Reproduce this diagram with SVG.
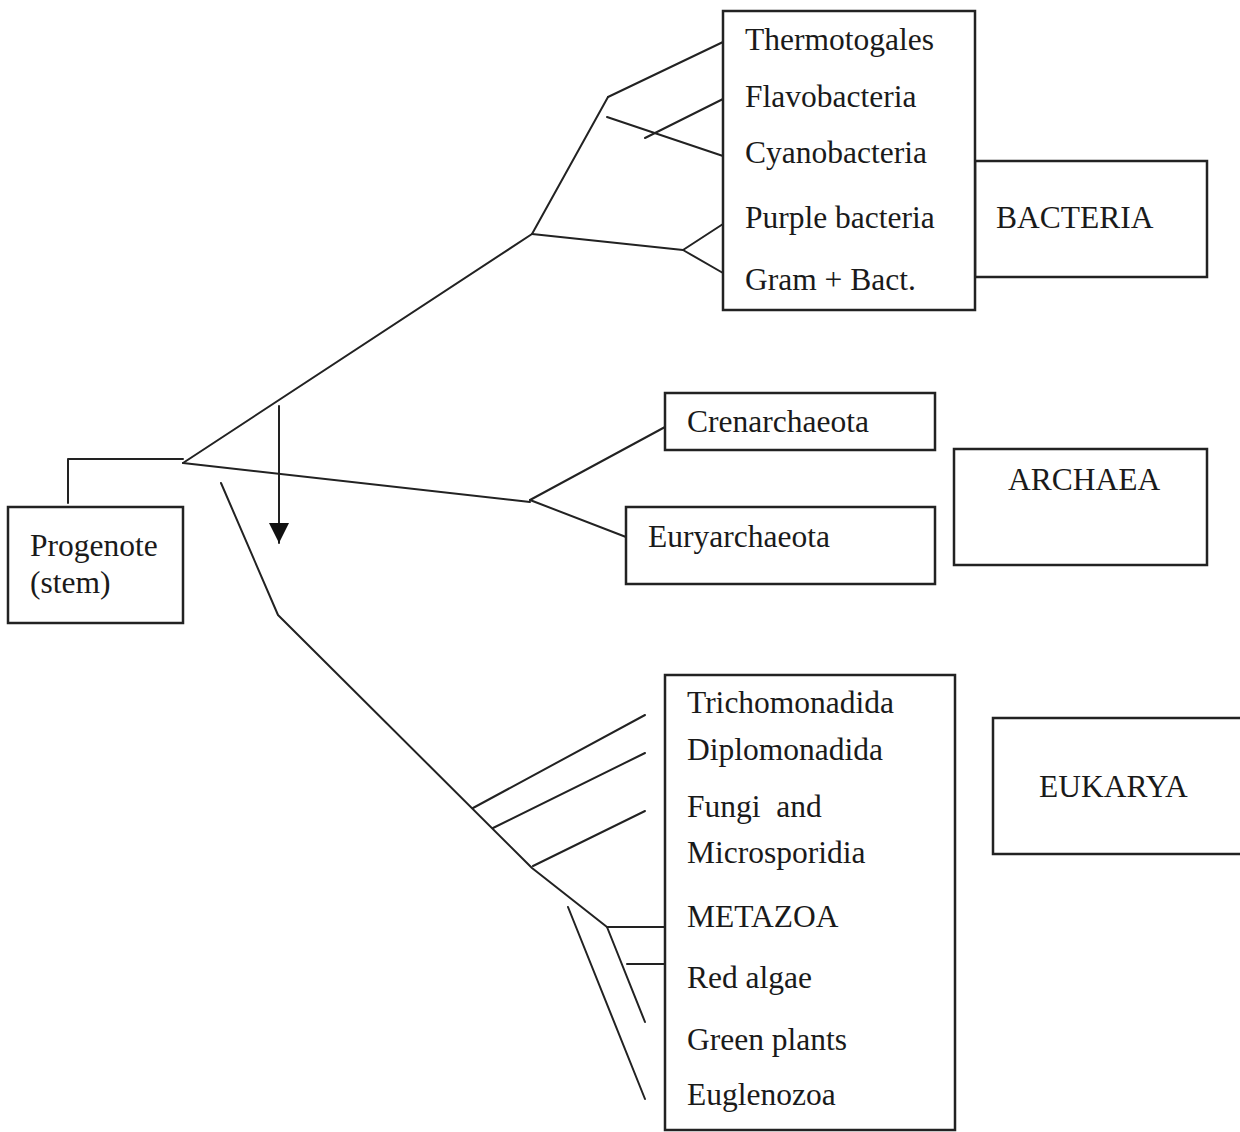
<svg xmlns="http://www.w3.org/2000/svg" width="1240" height="1132" viewBox="0 0 1240 1132">
<style>
.box{fill:#fff;stroke:#222;stroke-width:2.5}
.ln{fill:none;stroke:#222;stroke-width:2;stroke-linecap:round;stroke-linejoin:round}
text{font-family:"Liberation Serif","Times New Roman",serif;font-size:31.5px;fill:#1a1a1a}
</style>
<defs>
<marker id="ah" markerWidth="20" markerHeight="20" refX="20" refY="10" orient="auto" markerUnits="userSpaceOnUse" viewBox="0 0 20 20">
<path d="M0,0 L20,10 L0,20 Z" fill="#111"/>
</marker>
</defs>
<rect width="1240" height="1132" fill="#fff"/>
<g id="connectors">
<polyline class="ln" points="68,503 68,459 183,459"/>
<line class="ln" x1="183" y1="463" x2="532" y2="234"/>
<line class="ln" x1="532" y1="234" x2="608" y2="97"/>
<line class="ln" x1="608" y1="97" x2="723" y2="42"/>
<line class="ln" x1="607" y1="117" x2="723" y2="156"/>
<line class="ln" x1="645" y1="138" x2="723" y2="99"/>
<line class="ln" x1="532" y1="234" x2="683" y2="250"/>
<line class="ln" x1="683" y1="250" x2="723" y2="224"/>
<line class="ln" x1="683" y1="250" x2="723" y2="273"/>
<line class="ln" x1="183" y1="463" x2="530" y2="502"/>
<line class="ln" x1="530" y1="500" x2="665" y2="427"/>
<line class="ln" x1="530" y1="500" x2="626" y2="537"/>
<line class="ln" x1="279" y1="406" x2="279" y2="543" marker-end="url(#ah)"/>
<polyline class="ln" points="221,483 278,615 532,868 607,927 645,1022"/>
<line class="ln" x1="473" y1="808" x2="645" y2="715"/>
<line class="ln" x1="493" y1="828" x2="645" y2="753"/>
<line class="ln" x1="533" y1="866" x2="645" y2="811"/>
<line class="ln" x1="607" y1="927" x2="665" y2="927"/>
<line class="ln" x1="627" y1="964" x2="665" y2="964"/>
<line class="ln" x1="568" y1="907" x2="645" y2="1099"/>
</g>
<g id="progenote">
<rect class="box" x="8" y="507" width="175" height="116"/>
<text x="30" y="556">Progenote</text>
<text x="30" y="593">(stem)</text>
</g>
<g id="bacteria-group">
<rect class="box" x="975" y="161" width="232" height="116"/>
<text x="996" y="228">BACTERIA</text>
</g>
<g id="bacteria-list">
<rect class="box" x="723" y="11" width="252" height="299"/>
<text x="745" y="50">Thermotogales</text>
<text x="745" y="107">Flavobacteria</text>
<text x="745" y="163">Cyanobacteria</text>
<text x="745" y="228">Purple bacteria</text>
<text x="745" y="290">Gram + Bact.</text>
</g>
<g id="crenarchaeota">
<rect class="box" x="665" y="393" width="270" height="57"/>
<text x="687" y="432">Crenarchaeota</text>
</g>
<g id="euryarchaeota">
<rect class="box" x="626" y="507" width="309" height="77"/>
<text x="648" y="547">Euryarchaeota</text>
</g>
<g id="archaea">
<rect class="box" x="954" y="449" width="253" height="116"/>
<text x="1008" y="490">ARCHAEA</text>
</g>
<g id="eukarya-list">
<rect class="box" x="665" y="675" width="290" height="455"/>
<text x="687" y="713">Trichomonadida</text>
<text x="687" y="760">Diplomonadida</text>
<text x="687" y="817" xml:space="preserve">Fungi  and</text>
<text x="687" y="863">Microsporidia</text>
<text x="687" y="927">METAZOA</text>
<text x="687" y="988">Red algae</text>
<text x="687" y="1050">Green plants</text>
<text x="687" y="1105">Euglenozoa</text>
</g>
<g id="eukarya">
<rect class="box" x="993" y="718" width="260" height="136"/>
<text x="1039" y="797">EUKARYA</text>
</g>
</svg>
